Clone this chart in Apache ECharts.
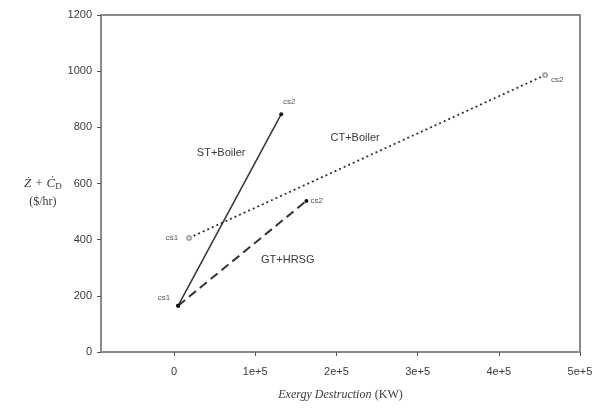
<!DOCTYPE html>
<html>
<head>
<meta charset="utf-8">
<script src="https://cdn.jsdelivr.net/npm/echarts@6/dist/echarts.min.js"></script>
<style>
  html, body { margin: 0; padding: 0; background: #fff; }
  #chart { width: 598px; height: 412px; }
</style>
</head>
<body>
<div id="chart"></div>
<script>
// data
var pointNames = ['cs1', 'cs2'];
var stBoiler = [[5000, 165], [132000, 847]];
var gtHrsg = [[5000, 165], [163000, 538]];
var ctBoiler = [[18500, 406], [457000, 986]];
var xTicks = [0, 100000, 200000, 300000, 400000, 500000];
var xTickLabels = ['0', '1e+5', '2e+5', '3e+5', '4e+5', '5e+5'];
var noteNames = ['ST+Boiler', 'CT+Boiler', 'GT+HRSG'];
var noteAt = [[58000, 709], [223000, 762], [140000, 328]];

var chart = echarts.init(document.getElementById('chart'));

var axisGray = '#8a8a8a';
var textGray = '#3a3a3a';

function pts(arr) {
    return arr.map(function (p, i) {
        return { value: p, name: pointNames[i] };
    });
}

var option = {
    animation: false,
    grid: {
        left: 101,
        right: 18,
        top: 15,
        bottom: 60,
        show: true,
        borderColor: axisGray,
        borderWidth: 2
    },
    xAxis: {
        type: 'value',
        min: -90000,
        max: 500000,
        name: '{i|Exergy Destruction} {n|(KW)}',
        nameLocation: 'middle',
        nameGap: 37,
        nameTextStyle: {
            rich: {
                i: { fontFamily: 'Liberation Serif', fontStyle: 'italic', fontSize: 12, color: textGray },
                n: { fontFamily: 'Liberation Serif', fontSize: 12, color: textGray }
            }
        },
        axisLine: { onZero: false, lineStyle: { color: axisGray, width: 2 } },
        axisTick: { show: true, inside: false, length: 4, customValues: xTicks, lineStyle: { color: '#555' } },
        splitLine: { show: false },
        axisLabel: {
            customValues: xTicks,
            formatter: function (v) {
                return xTickLabels[xTicks.indexOf(v)];
            },
            color: textGray,
            fontSize: 11,
            fontFamily: 'Liberation Sans',
            margin: 14
        }
    },
    yAxis: {
        type: 'value',
        min: 0,
        max: 1200,
        interval: 200,
        name: '{i|Ż + Ċ}{s|D}\n{n|($/hr)}',
        nameLocation: 'middle',
        nameRotate: 0,
        nameGap: 55,
        nameTextStyle: {
            align: 'center',
            padding: [22, 0, 0, 0],
            rich: {
                i: { fontFamily: 'Liberation Serif', fontStyle: 'italic', fontSize: 13, color: textGray },
                s: { fontFamily: 'Liberation Serif', fontSize: 9, color: textGray, verticalAlign: 'bottom', padding: [6, 0, 0, 0] },
                n: { fontFamily: 'Liberation Serif', fontSize: 12, color: textGray, lineHeight: 22 }
            }
        },
        axisLine: { show: true, onZero: false, lineStyle: { color: axisGray, width: 2 } },
        axisTick: { show: true, inside: false, length: 4, lineStyle: { color: '#555' } },
        splitLine: { show: false },
        axisLabel: {
            formatter: function (v) { return String(v); },
            color: textGray,
            fontSize: 11,
            fontFamily: 'Liberation Sans',
            margin: 9
        }
    },
    series: [
        {
            name: 'ST+Boiler',
            type: 'line',
            data: pts(stBoiler),
            symbol: 'circle',
            symbolSize: 4,
            itemStyle: { color: '#111' },
            lineStyle: { color: '#333', width: 1.5 },
            label: {
                show: true,
                formatter: '{b}',
                fontSize: 8,
                fontFamily: 'Liberation Sans',
                color: '#555',
                position: 'left',
                distance: 6,
                offset: [0, -8]
            },
            markPoint: {
                symbol: 'circle',
                symbolSize: 0,
                data: noteNames.map(function (n, i) {
                    return { name: n, coord: noteAt[i] };
                }),
                label: {
                    show: true,
                    position: 'inside',
                    formatter: '{b}',
                    fontSize: 11,
                    fontFamily: 'Liberation Sans',
                    color: textGray
                }
            }
        },
        {
            name: 'GT+HRSG',
            type: 'line',
            data: pts(gtHrsg),
            symbol: 'circle',
            symbolSize: 4,
            itemStyle: { color: '#111' },
            lineStyle: { color: '#333', width: 2, type: [9, 5] },
            label: {
                show: true,
                formatter: function (p) { return p.dataIndex === 1 ? p.name : ''; },
                fontSize: 8,
                fontFamily: 'Liberation Sans',
                color: '#555',
                position: 'right',
                distance: 2
            }
        },
        {
            name: 'CT+Boiler',
            type: 'line',
            data: pts(ctBoiler),
            symbol: 'emptyCircle',
            symbolSize: 4,
            itemStyle: { color: '#aaa', borderColor: '#aaa' },
            lineStyle: { color: '#333', width: 1.8, type: [2, 3] },
            label: {
                show: true,
                formatter: '{b}',
                fontSize: 8,
                fontFamily: 'Liberation Sans',
                color: '#555',
                position: 'left',
                distance: 8
            }
        }
    ]
};

// cs2 label positions per line
option.series[0].data[1].label = { position: 'top', offset: [8, 0] };
option.series[2].data[1].label = { position: 'right', offset: [0, 5], distance: 3 };

chart.setOption(option);
</script>
</body>
</html>
